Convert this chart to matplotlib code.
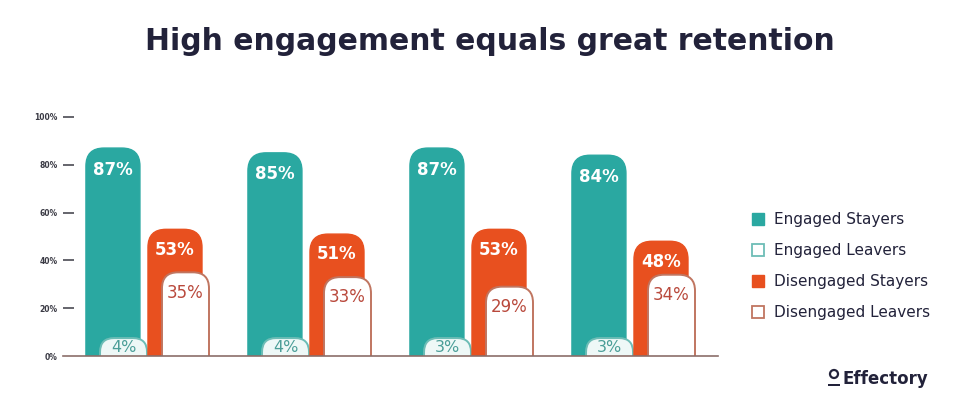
import numpy as np
import matplotlib.pyplot as plt
from matplotlib.patches import FancyBboxPatch, Circle, Rectangle
from matplotlib.lines import Line2D

# ── data ──────────────────────────────────────────────────────────────────────
series_names = ["Engaged Stayers", "Engaged Leavers",
                "Disengaged Stayers", "Disengaged Leavers"]
engaged_stayers = [87, 85, 87, 84]
engaged_leavers = [4, 4, 3, 3]
disengaged_stayers = [53, 51, 53, 48]
disengaged_leavers = [35, 33, 29, 34]
ytick_values = [0, 20, 40, 60, 80, 100]
ytick_labels = ["0%", "20%", "40%", "60%", "80%", "100%"]

TEAL = "#2aa8a1"
TEAL_EDGE = "#6dbdb6"
TEAL_TEXT = "#4b9e98"
ORANGE = "#e8501f"
BROWN_EDGE = "#c07560"
BROWN_TEXT = "#b9493c"
NAVY = "#22223a"

plt.rcParams["font.family"] = ["DejaVu Sans"]

W, H = 977, 404
fig = plt.figure(figsize=(W / 100, H / 100), dpi=100)
fig.patch.set_facecolor("white")

# axes box in pixels: x 63..718, baseline 356, 100% at 117
ax = fig.add_axes([63 / W, 48 / H, 655 / W, 239 / H])
ax.set_xlim(-0.5216, 3.5216)
ax.set_ylim(0, 100)

px_x = 655 / (ax.get_xlim()[1] - ax.get_xlim()[0])   # pixels per x unit
px_y = 239 / 100                                      # pixels per y unit
aspect = px_x / px_y


def rounded_bar(x0, width, top, face, edge, lw, z, radius_px=18):
    # box runs below the baseline so only the top corners show
    r = radius_px / px_x
    p = FancyBboxPatch((x0, -40), width, top + 40,
                       boxstyle="round,pad=0,rounding_size={:.4f}".format(r),
                       mutation_aspect=aspect, facecolor=face, edgecolor=edge,
                       linewidth=lw, zorder=z)
    ax.add_patch(p)


stay_w = 54 / 162
leave_w = 47 / 162
min_shown = 7.5   # small leaver boxes still need room for their label

for i in range(len(engaged_stayers)):
    # teal stayers
    x = i - 0.38
    rounded_bar(x, stay_w, engaged_stayers[i], TEAL, TEAL, 1.0, 2)
    ax.text(x + stay_w / 2, engaged_stayers[i] - 9, "{}%".format(engaged_stayers[i]),
            ha="center", va="center", color="white", fontsize=12, fontweight="bold", zorder=6)

    # engaged leavers
    x = i - 0.293
    shown = max(engaged_leavers[i], min_shown)
    rounded_bar(x, leave_w, shown, "#eef8f7", TEAL_EDGE, 1.4, 3, radius_px=14)
    ax.text(x + leave_w / 2, shown - 4.0, "{}%".format(engaged_leavers[i]),
            ha="center", va="center", color=TEAL_TEXT, fontsize=11.5, zorder=6)

    # orange stayers
    x = i + 0.003
    rounded_bar(x, stay_w, disengaged_stayers[i], ORANGE, ORANGE, 1.0, 4)
    ax.text(x + stay_w / 2, disengaged_stayers[i] - 8.5, "{}%".format(disengaged_stayers[i]),
            ha="center", va="center", color="white", fontsize=12, fontweight="bold", zorder=6)

    # disengaged leavers
    x = i + 0.0895
    rounded_bar(x, leave_w, disengaged_leavers[i], "white", BROWN_EDGE, 1.4, 5, radius_px=16)
    ax.text(x + leave_w / 2, disengaged_leavers[i] - 8.5, "{}%".format(disengaged_leavers[i]),
            ha="center", va="center", color=BROWN_TEXT, fontsize=12, zorder=6)

for s in ["top", "right", "left"]:
    ax.spines[s].set_visible(False)
ax.spines["bottom"].set_color("#8b6e69")
ax.spines["bottom"].set_linewidth(1.2)
ax.spines["bottom"].set_zorder(10)
ax.set_xticks([])
ax.set_yticks(ytick_values)
ax.set_yticklabels(ytick_labels, fontsize=5.5, fontweight="bold", color="#3a3a44")
ax.tick_params(axis="y", direction="in", length=8, width=1.1, color="#3a3a44", pad=4)
ax.yaxis.get_major_ticks()[0].tick1line.set_visible(False)

# ── title ─────────────────────────────────────────────────────────────────────
fig.text(490 / W, 1 - 42 / H, "High engagement equals great retention",
         ha="center", va="center", fontsize=21.5, fontweight="bold", color=NAVY)

# ── legend ────────────────────────────────────────────────────────────────────
handles = [
    Line2D([], [], ls="", marker="s", ms=9, mfc=TEAL, mec=TEAL),
    Line2D([], [], ls="", marker="s", ms=8, mfc="white", mec=TEAL_EDGE, mew=1.3),
    Line2D([], [], ls="", marker="s", ms=9, mfc=ORANGE, mec=ORANGE),
    Line2D([], [], ls="", marker="s", ms=8, mfc="white", mec=BROWN_EDGE, mew=1.3),
]
leg = fig.legend(handles, series_names, loc="center left",
                 bbox_to_anchor=(737 / W, 1 - 266 / H), frameon=False,
                 fontsize=11, labelspacing=1.05, handletextpad=0.5,
                 handlelength=1.0, labelcolor=NAVY)

# ── logo ──────────────────────────────────────────────────────────────────────
def px(x, y):
    return x / 100, (H - y) / 100

fig.text(842 / W, 1 - 379 / H, "Effectory", ha="left", va="center",
         fontsize=12, fontweight="bold", color=NAVY)
fig.add_artist(Circle(px(834, 374), 0.04, transform=fig.dpi_scale_trans,
                      facecolor="none", edgecolor=NAVY, linewidth=1.6))
fig.add_artist(Rectangle(px(828, 386), 0.12, 0.025, transform=fig.dpi_scale_trans,
                         facecolor=NAVY, edgecolor="none"))

fig.savefig("out.png", dpi=100)
